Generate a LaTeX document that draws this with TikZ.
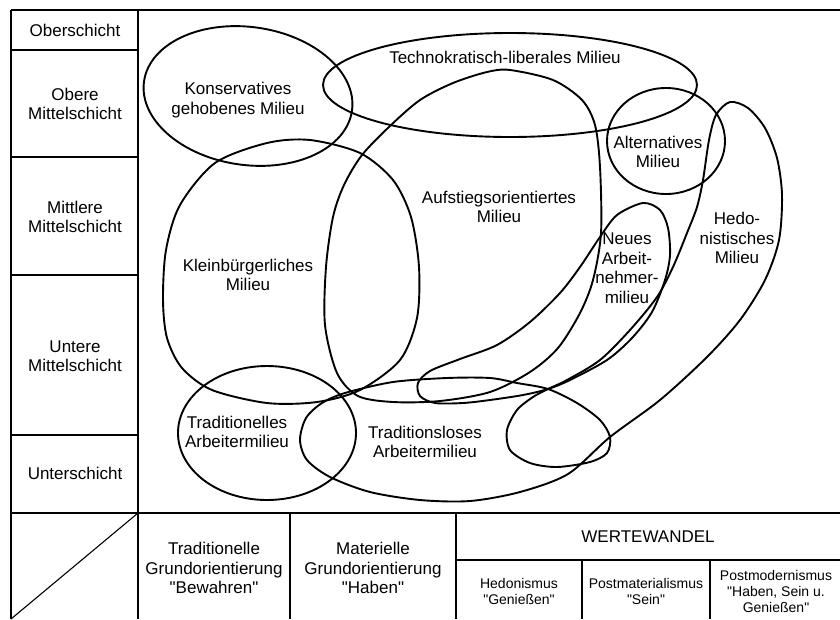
\documentclass[tikz,border=0pt]{standalone}
\usepackage{fontspec}
\setmainfont{Liberation Sans}[Ligatures=TeXOff]

\begin{document}
\begin{tikzpicture}[
    x=1pt, y=-1pt,
    grid/.style={line width=1.1pt},
    milieu/.style={line width=1.9pt, line join=round},
    label/.style={align=center, inner sep=0pt,
                  font=\fontsize{17}{19.5}\selectfont},
    small/.style={align=center, inner sep=0pt,
                  font=\fontsize{14}{16}\selectfont},
]
    \useasboundingbox (0,0) rectangle (840,619);

    % Table frame
    \draw[grid] (11,10) -- (840,10);
    \draw[grid] (11,10) -- (11,619);
    \draw[grid] (138,10) -- (138,619);
    \draw[grid] (11,513) -- (840,513);
    \foreach \y in {50,157,275,435}
        \draw[grid] (11,\y) -- (138,\y);
    \draw[grid] (11,619) -- (138,513);
    \draw[grid] (290,513) -- (290,619);
    \draw[grid] (456,513) -- (456,619);
    \draw[grid] (456,560) -- (840,560);
    \draw[grid] (582,560) -- (582,619);
    \draw[grid] (710,560) -- (710,619);

    % Schichten
    \node[label] (ober) at (75,30) {Oberschicht};
    \node[label] (oberemitte) at (75,104) {Obere\\Mittelschicht};
    \node[label] (mittleremitte) at (75,217) {Mittlere\\Mittelschicht};
    \node[label] (unteremitte) at (75,356) {Untere\\Mittelschicht};
    \node[label] (unter) at (75,473) {Unterschicht};

    % Grundorientierungen
    \node[label] (bewahren) at (214,568) {Traditionelle\\Grundorientierung\\"Bewahren"};
    \node[label] (haben) at (373,568) {Materielle\\Grundorientierung\\"Haben"};
    \node[label] (wandel) at (648,537) {WERTEWANDEL};
    \node[small] (hedonismus) at (519,591) {Hedonismus\\"Genießen"};
    \node[small] (postmat) at (646,591) {Postmaterialismus\\"Sein"};
    \node[small] (postmod) at (776,591) {Postmodernismus\\"Haben, Sein u.\\Genießen"};

    % Milieus
    \draw[milieu, rotate around={-8:(248,96)}] (248,96) ellipse [x radius=105, y radius=69];
    \draw[milieu] (510,85) ellipse [x radius=187, y radius=52];
    \draw[milieu] (666,141) ellipse [x radius=59, y radius=53];
    \draw[milieu] (267,433) ellipse [x radius=89, y radius=67];
    \draw[milieu] plot[smooth cycle] coordinates {
        (163,300) (166,250) (180,205) (215,163) (267,143) (310,140)
        (360,153) (393,180) (411,217) (419,267) (417,318) (400,360)
        (360,390) (317,402) (267,403) (212,390) (182,368) (167,338)};
    \draw[milieu] plot[smooth cycle] coordinates {
        (510,70) (553,80) (582,100) (595,125) (600,167) (601,233)
        (593,280) (580,313) (558,348) (530,372) (490,392) (440,401)
        (393,402) (358,396) (337,373) (325,325) (326,267) (333,217)
        (344,185) (362,155) (390,126) (420,100) (453,83) (487,72)};
    \draw[milieu] plot[smooth cycle] coordinates {
        (643,203) (660,210) (668,228) (670,255) (665,280) (652,312)
        (632,338) (607,360) (570,380) (548,389) (523,395) (490,400)
        (463,403) (435,403) (420,396) (418,383) (430,371) (460,359)
        (497,345) (530,322) (560,293) (580,267) (600,237) (617,215)};
    \draw[milieu] plot[smooth cycle] coordinates {
        (730,102) (748,108) (765,128) (777,158) (782,195) (779,240)
        (765,280) (740,320) (707,357) (660,400) (610,437) (568,474)
        (520,492) (470,501) (420,500) (370,492) (330,477) (307,460)
        (300,440) (306,418) (322,403) (345,393) (393,382) (447,378)
        (490,378) (517,383) (548,389) (577,403) (600,420) (610,437)
        (607,453) (590,462) (557,467) (530,463) (510,450) (507,430)
        (517,410) (533,397) (548,389) (567,380) (600,360) (630,330)
        (657,297) (673,267) (687,233) (697,207) (703,180) (709,140)
        (716,115)};

    % Milieu labels
    \node[label] (konservativ) at (238,100) {Konservatives\\gehobenes Milieu};
    \node[label] (techno) at (505,57) {Technokratisch-liberales Milieu};
    \node[label] (klein) at (248,275) {Kleinbürgerliches\\Milieu};
    \node[label] (aufstieg) at (499,207) {Aufstiegsorientiertes\\Milieu};
    \node[label] (alternativ) at (658,152) {Alternatives\\Milieu};
    \node[label] (neues) at (627,268) {Neues\\Arbeit-\\nehmer-\\milieu};
    \node[label] (hedo) at (737,238) {Hedo-\\nistisches\\Milieu};
    \node[label] (tradi) at (237,432) {Traditionelles\\Arbeitermilieu};
    \node[label] (tradlos) at (425,442) {Traditionsloses\\Arbeitermilieu};
\end{tikzpicture}
\end{document}
